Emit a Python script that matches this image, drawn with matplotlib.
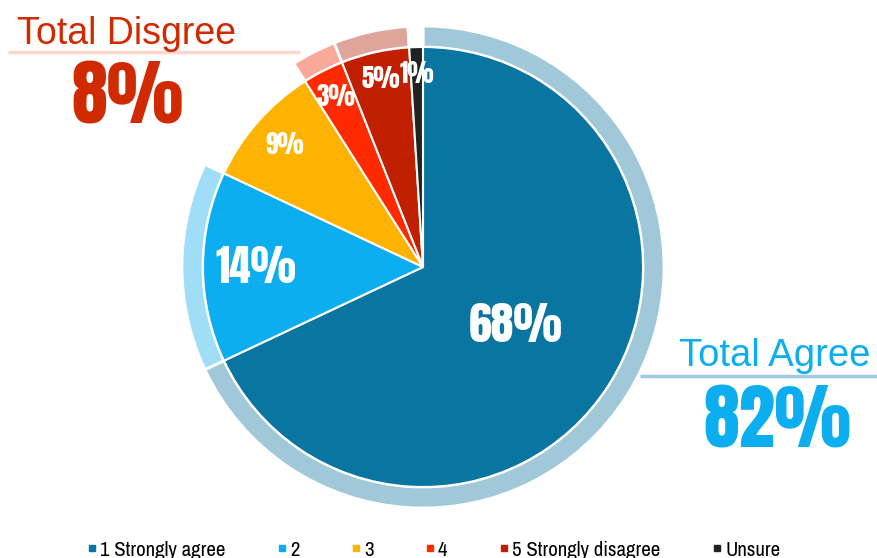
import matplotlib.pyplot as plt
from matplotlib.lines import Line2D
from matplotlib import font_manager
import numpy as np

labels = ["1 Strongly agree", "2", "3", "4", "5 Strongly disagree", "Unsure"]
values = [68, 14, 9, 3, 5, 1]
colors = ["#0B75A1", "#0DAEEF", "#FFB300", "#FF2A00", "#C01F00", "#222222"]
ring_colors = ["#A0C8D9", "#A0DEF7", "none", "#F9A899", "#DFA59B", "none"]
label_sizes = [33, 31, 18, 18, 18, 18]
label_radius = [0.5, 0.76, 0.84, 0.87, 0.88, 0.88]

total_agree = 82
total_disagree = 8


def pick(*families):
    names = {f.name for f in font_manager.fontManager.ttflist}
    for fam in families:
        if fam in names:
            return fam
    return "DejaVu Sans"


heavy = pick("Anton", "Oswald", "Roboto Condensed")
narrow = pick("Archivo Narrow", "Roboto Condensed", "Arimo")
plain = pick("Liberation Sans", "Arimo")
heavy_weight = "normal" if heavy == "Anton" else "bold"

W, H = 878, 558
fig = plt.figure(figsize=(W / 100, H / 100), dpi=100)
ax = fig.add_axes([0, 0, 1, 1])

cx, cy = 423, H - 267
r_in, r_out = 220, 241

# outer ring for the agree / disagree groups
ax.pie(values, colors=ring_colors, radius=r_out, center=(cx, cy),
       startangle=90, counterclock=False,
       wedgeprops=dict(width=r_out - r_in, edgecolor="white", linewidth=2))
wedges, _ = ax.pie(values, colors=colors, radius=r_in, center=(cx, cy),
                   startangle=90, counterclock=False,
                   wedgeprops=dict(edgecolor="white", linewidth=1.5))

for w, v, fs, rf in zip(wedges, values, label_sizes, label_radius):
    ang = np.deg2rad((w.theta1 + w.theta2) / 2)
    x = cx + rf * r_in * np.cos(ang)
    y = cy + rf * r_in * np.sin(ang)
    ax.text(x, y, f"{v}%", color="white", fontsize=fs, fontweight=heavy_weight,
            family=heavy, ha="center", va="center")
ax.set_xlim(0, W)
ax.set_ylim(0, H)
ax.set_aspect("equal")
ax.axis("off")

# group totals
ax.plot([8, 300], [H - 52, H - 52], color="#FDD6CF", lw=2.5, solid_capstyle="butt")
ax.text(17, H - 44, "Total Disgree", color="#D02A00", fontsize=27,
        family=plain, ha="left", va="baseline")
ax.text(127, H - 97, f"{total_disagree}%", color="#D02A00", fontsize=52,
        fontweight=heavy_weight, family=heavy, ha="center", va="center")

ax.plot([640, W], [H - 376, H - 376], color="#9ECBDF", lw=2.5, solid_capstyle="butt")
ax.text(870, H - 366, "Total Agree", color="#0DAEEF", fontsize=27.5,
        family=plain, ha="right", va="baseline")
ax.text(777, H - 421, f"{total_agree}%", color="#0DAEEF", fontsize=52,
        fontweight=heavy_weight, family=heavy, ha="center", va="center")

handles = [Line2D([], [], marker="s", ls="none", color=c, markersize=5) for c in colors]
ax.legend(handles, labels, loc="center", bbox_to_anchor=(0.4935, 1 - 550 / H),
          ncol=6, frameon=False, handlelength=0.5, handletextpad=0.15,
          columnspacing=2.45, prop=dict(family=narrow, size=15))

fig.savefig("out.png", dpi=100)
